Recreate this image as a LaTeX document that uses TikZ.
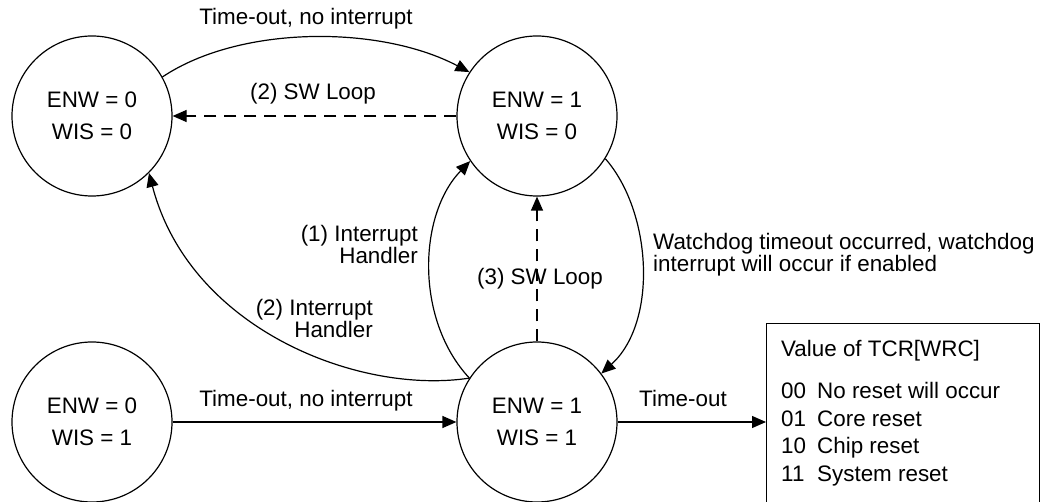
\documentclass[tikz,border=0pt]{standalone}
\usepackage{fontspec}
\setmainfont{Liberation Sans}
\usetikzlibrary{arrows.meta}
\begin{document}
\begin{tikzpicture}[x=1pt,y=-1pt,
  every node/.style={font=\fontsize{22.4}{20}\selectfont},
  state/.style={circle,draw,line width=1.2pt,minimum size=160pt,inner sep=0pt,align=center,
    font=\fontsize{22.4}{32}\selectfont},
  conn/.style={line width=1.2pt,-{Triangle[length=14pt,width=12pt]}},
  dsh/.style={conn,dash pattern=on 12pt off 8pt},
  lbl/.style={inner sep=0pt,anchor=base}]
\useasboundingbox (0,0) rectangle (1042,502);

% states
\node[state] (A) at (92,116)  {ENW = 0\\WIS = 0};
\node[state] (B) at (537,116) {ENW = 1\\WIS = 0};
\node[state] (C) at (92,422)  {ENW = 0\\WIS = 1};
\node[state] (D) at (537,422) {ENW = 1\\WIS = 1};

% result box
\node[draw,line width=1.2pt,anchor=north west,minimum width=273pt,minimum height=230pt,inner sep=0pt] (box) at (766,323) {};
\node[lbl,anchor=base west] (title) at (781,357) {Value of TCR[WRC]};
\node[lbl,anchor=base west] (c0) at (781,399) {00};
\node[lbl,anchor=base west] (d0) at (817,399) {No reset will occur};
\node[lbl,anchor=base west] (c1) at (781,427) {01};
\node[lbl,anchor=base west] (d1) at (817,427) {Core reset};
\node[lbl,anchor=base west] (c2) at (781,454) {10};
\node[lbl,anchor=base west] (d2) at (817,454) {Chip reset};
\node[lbl,anchor=base west] (c3) at (781,482) {11};
\node[lbl,anchor=base west] (d3) at (817,482) {System reset};

% connectors
\draw[conn] (A.29) .. controls (240,25) and (380,25) .. (B.147);
\draw[dsh] (B.west) -- (A.east);
\draw[conn] (C.east) -- (D.west);
\draw[conn] (D.east) -- (D.east -| box.west);
\draw[dsh] (D.north) -- (B.south);
\draw[conn] (D.147) .. controls (360,395) and (190,330) .. (A.-45);
\draw[conn] (D.147) .. controls (415,320) and (418,215) .. (B.-146);
\draw[conn] (B.-32) .. controls (652,212) and (658,322) .. (D.37);

% labels
\node[lbl] (l1) at (306,25) {Time-out, no interrupt};
\node[lbl] (l2) at (313,100) {(2) SW Loop};
\node[lbl] (l3) at (306,407) {Time-out, no interrupt};
\node[lbl] (l4) at (683,407) {Time-out};
\node[lbl] (l5) at (540,285) {(3) SW Loop};
\node[inner sep=0pt,anchor=north east,align=right] (l6) at (418,225) {(1) Interrupt\\Handler};
\node[inner sep=0pt,anchor=north east,align=right] (l7) at (373,299) {(2) Interrupt\\Handler};
\node[inner sep=0pt,anchor=north west,align=left] (l8) at (653,233) {Watchdog timeout occurred, watchdog\\interrupt will occur if enabled};
\end{tikzpicture}
\end{document}
